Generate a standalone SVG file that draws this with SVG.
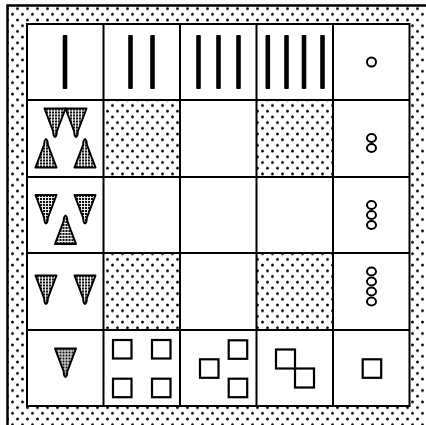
<svg xmlns="http://www.w3.org/2000/svg" width="426" height="425" viewBox="0 0 426 425">
<style>
.grid{fill:none;stroke:#000;stroke-width:2}
.bar{fill:#000}
.ring{fill:none;stroke:#000;stroke-width:2}
.sq{fill:none;stroke:#000;stroke-width:2.2}
.tri{fill:url(#fine);stroke:#000;stroke-width:2;stroke-linejoin:round}
</style>
<defs>
<pattern id="dots" width="10" height="11.4" patternUnits="userSpaceOnUse">
<rect width="10" height="11.4" fill="#fff"/>
<circle cx="2.5" cy="2.8" r="1.45" fill="#000"/>
<circle cx="7.5" cy="8.5" r="1.45" fill="#000"/>
</pattern>
<pattern id="fine" width="3" height="3" patternUnits="userSpaceOnUse">
<rect width="3" height="3" fill="#fff"/>
<rect x="0" y="0" width="2.1" height="2.1" fill="#111"/>
</pattern>
<path id="tdown" class="tri" d="M -10.5 0 L 10.5 0 L 1.8 23 Q 1.8 27.5 0 28.5 Q -1.8 27.5 -1.8 23 Z"/>
</defs>
<rect x="0" y="0" width="426" height="425" fill="#fff"/>
<g id="frame">
<rect x="7.5" y="5.5" width="440" height="440" fill="url(#dots)" stroke="#000" stroke-width="2.5"/>
<rect x="27" y="24" width="382.5" height="382" fill="#fff"/>
<rect x="103.5" y="100" width="76.5" height="77" fill="url(#dots)"/>
<rect x="256.5" y="100" width="76.5" height="77" fill="url(#dots)"/>
<rect x="103.5" y="253" width="76.5" height="77" fill="url(#dots)"/>
<rect x="256.5" y="253" width="76.5" height="77" fill="url(#dots)"/>
</g>
<g id="grid" class="grid">
<rect x="27" y="24" width="382.5" height="382"/>
<path d="M103.5 24V406M180 24V406M256.5 24V406M333 24V406M27 100H409.5M27 177H409.5M27 253H409.5M27 330H409.5"/>
</g>
<g id="connectors"/>
<g id="cell-0-0"><rect class="bar" x="62.7" y="35" width="4.6" height="54" rx="1"/></g>
<g id="cell-0-1"><rect class="bar" x="128.2" y="35" width="4.6" height="54" rx="1"/><rect class="bar" x="150.2" y="35" width="4.6" height="54" rx="1"/></g>
<g id="cell-0-2"><rect class="bar" x="196.2" y="35" width="4.6" height="54" rx="1"/><rect class="bar" x="216.2" y="35" width="4.6" height="54" rx="1"/><rect class="bar" x="236.2" y="35" width="4.6" height="54" rx="1"/></g>
<g id="cell-0-3"><rect class="bar" x="265.5" y="35" width="4.6" height="54" rx="1"/><rect class="bar" x="284.2" y="35" width="4.6" height="54" rx="1"/><rect class="bar" x="301.7" y="35" width="4.6" height="54" rx="1"/><rect class="bar" x="320.2" y="35" width="4.6" height="54" rx="1"/></g>
<g id="cell-0-4"><circle class="ring" cx="371.5" cy="62" r="4.5"/></g>
<g id="cell-1-0">
<use href="#tdown" transform="translate(55,108.5)"/>
<use href="#tdown" transform="translate(76,108.5)"/>
<use href="#tdown" transform="translate(46,167.5) scale(1,-1)"/>
<use href="#tdown" transform="translate(85,167.5) scale(1,-1)"/>
</g>
<g id="cell-2-0">
<use href="#tdown" transform="translate(46,195)"/>
<use href="#tdown" transform="translate(85,195)"/>
<use href="#tdown" transform="translate(65.5,244) scale(1,-1)"/>
</g>
<g id="cell-3-0">
<use href="#tdown" transform="translate(46,275.5)"/>
<use href="#tdown" transform="translate(85,275.5)"/>
</g>
<g id="cell-4-0">
<use href="#tdown" transform="translate(65.5,348.5)"/>
</g>
<g id="cell-1-4" class="ring"><ellipse cx="371.5" cy="138" rx="4.5" ry="4"/><ellipse cx="371.5" cy="148" rx="4.5" ry="4"/></g>
<g id="cell-2-4" class="ring"><ellipse cx="371.5" cy="205" rx="4.5" ry="4"/><ellipse cx="371.5" cy="215" rx="4.5" ry="4"/><ellipse cx="371.5" cy="225" rx="4.5" ry="4"/></g>
<g id="cell-3-4" class="ring"><ellipse cx="371.5" cy="271.5" rx="4.5" ry="4"/><ellipse cx="371.5" cy="281.5" rx="4.5" ry="4"/><ellipse cx="371.5" cy="291.5" rx="4.5" ry="4"/><ellipse cx="371.5" cy="301.5" rx="4.5" ry="4"/></g>
<g id="cell-4-1" class="sq">
<rect x="113" y="340" width="18.5" height="18.5"/><rect x="152" y="340" width="18.5" height="18.5"/>
<rect x="113" y="378.7" width="18.5" height="18.5"/><rect x="152" y="378.7" width="18.5" height="18.5"/>
</g>
<g id="cell-4-2" class="sq">
<rect x="228.7" y="340.3" width="18.5" height="18.5"/><rect x="200" y="359.3" width="18.5" height="18.5"/><rect x="228.7" y="378.7" width="18.5" height="18.5"/>
</g>
<g id="cell-4-3" class="sq">
<rect x="276" y="349.5" width="19" height="19"/><rect x="295" y="368.5" width="19" height="19"/>
</g>
<g id="cell-4-4" class="sq"><rect x="362.7" y="359.3" width="18.5" height="18.5"/></g>
</svg>
